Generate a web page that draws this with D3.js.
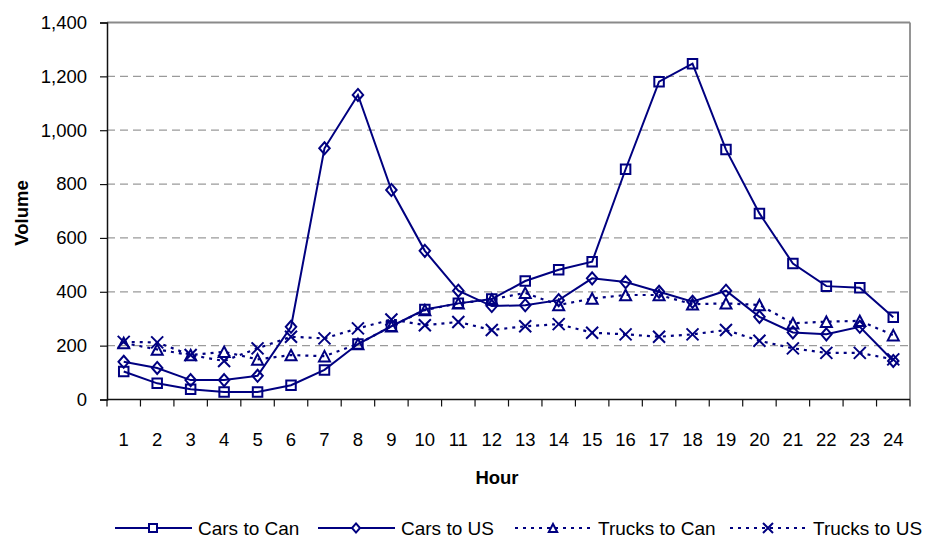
<!DOCTYPE html>
<html><head><meta charset="utf-8">
<script src="https://cdn.jsdelivr.net/npm/d3@7"></script>
<style>body{margin:0;background:#fff}svg{display:block;font-family:"Liberation Sans",Arial,sans-serif}</style>
</head><body><svg id="c" width="933" height="540"></svg>
<script>
const hours = d3.range(1,25);
const yTicks = [0,200,400,600,800,1000,1200,1400];
const carsToCan = [104,60,38,28,28,53,110,206,272,334,357,373,440,482,512,855,1180,1247,928,691,505,421,415,305];
const carsToUS = [140,117,72,72,88,270,933,1131,778,552,404,347,350,369,450,436,400,363,404,307,249,242,270,143];
const trucksToCan = [210,186,165,177,149,165,161,206,272,332,357,372,396,351,375,388,388,354,357,351,283,289,292,239];
const trucksToUS = [214,212,165,143,190,233,227,264,297,276,288,258,272,280,248,242,233,242,258,218,190,173,173,149];
const seriesNames = ["Cars to Can","Cars to US","Trucks to Can","Trucks to US"];
const seriesData = [carsToCan, carsToUS, trucksToCan, trucksToUS];
const markers = ["square","diamond","triangle","x"];
const dashed = [false,false,true,true];

const col = "#000080";
const svg = d3.select("#c");
const L=107, R=910, T=22.5, B=399.5;
const x = d3.scaleBand().domain(hours).range([L,R]).padding(0);
const y = d3.scaleLinear().domain([0,1400]).range([B,T]);
const cx = h => x(h) + x.bandwidth()/2;

// gridlines
svg.append("g").selectAll("line").data(yTicks.filter(v=>v>0 && v<1400)).join("line")
  .attr("x1",L).attr("x2",R).attr("y1",d=>y(d)).attr("y2",d=>y(d))
  .attr("stroke","#9a9a9a").attr("stroke-width",1.3).attr("stroke-dasharray","8,5");
// top and right border
svg.append("line").attr("x1",L).attr("x2",R).attr("y1",y(1400)).attr("y2",y(1400)).attr("stroke","#8a8a8a").attr("stroke-width",1.8);
svg.append("line").attr("x1",R).attr("x2",R).attr("y1",y(1400)).attr("y2",B).attr("stroke","#8a8a8a").attr("stroke-width",1.8);

// y axis
const yAxis = d3.axisLeft(y).tickValues(yTicks).tickSize(7).tickPadding(13).tickFormat(d3.format(","));
const gy = svg.append("g").attr("transform",`translate(${L},0)`).call(yAxis);
gy.select(".domain").attr("stroke","#111").attr("stroke-width",1.5);
gy.selectAll(".tick line").attr("stroke","#111").attr("stroke-width",1.2);
gy.selectAll("text").attr("font-size",18.5).attr("fill","#000").attr("font-family","Liberation Sans, Arial, sans-serif");

// x axis: ticks at band boundaries
const gx = svg.append("g");
gx.append("line").attr("x1",L).attr("x2",R).attr("y1",B).attr("y2",B).attr("stroke","#111").attr("stroke-width",1.5);
const bounds = hours.map(h=>x(h)).concat([R]);
gx.selectAll("line.t").data(bounds).join("line").attr("class","t")
  .attr("x1",d=>d).attr("x2",d=>d).attr("y1",B).attr("y2",B+7).attr("stroke","#111").attr("stroke-width",1.2);
gx.selectAll("text").data(hours).join("text")
  .attr("x",d=>cx(d)).attr("y",446).attr("text-anchor","middle")
  .attr("font-size",18.5).attr("fill","#000").text(d=>d);

// axis titles
svg.append("text").attr("x",497).attr("y",484).attr("text-anchor","middle").attr("font-size",18.5).attr("font-weight","bold").text("Hour");
svg.append("text").attr("transform","translate(28,213) rotate(-90)").attr("text-anchor","middle").attr("font-size",18.5).attr("font-weight","bold").text("Volume");

function markerPath(type, s){
  const h = s/2;
  if(type==="square") return `M${-h},${-h}H${h}V${h}H${-h}Z`;
  if(type==="diamond") return `M0,${-h*1.15}L${h},0L0,${h*1.15}L${-h},0Z`;
  if(type==="triangle") return `M0,${-h}L${h*1.05},${h}L${-h*1.05},${h}Z`;
  return `M${-h},${-h}L${h},${h}M${h},${-h}L${-h},${h}`;
}

const line = d3.line().x((d,i)=>cx(hours[i])).y(d=>y(d));
seriesData.forEach((data,k)=>{
  const g = svg.append("g");
  g.append("path").attr("d",line(data)).attr("fill","none").attr("stroke",col)
    .attr("stroke-width",dashed[k]?2.2:2).attr("stroke-dasharray",dashed[k]?"3,5":null);
  g.selectAll("path.m").data(data).join("path").attr("class","m")
    .attr("transform",(d,i)=>`translate(${cx(hours[i])},${y(d)})`)
    .attr("d",markerPath(markers[k], markers[k]==="x"?12:(markers[k]==="square"?9.5:10.5)))
    .attr("fill","none").attr("stroke",col).attr("stroke-width",2);
});

// legend
const legX = [115,318,515,730];
const ly = 528;
seriesNames.forEach((name,k)=>{
  const g = svg.append("g");
  g.append("line").attr("x1",legX[k]).attr("x2",legX[k]+77).attr("y1",ly).attr("y2",ly)
    .attr("stroke",col).attr("stroke-width",2).attr("stroke-dasharray",dashed[k]?"3,5":null);
  g.append("path").attr("transform",`translate(${legX[k]+38},${ly})`)
    .attr("d",markerPath(markers[k], markers[k]==="x"?10:8))
    .attr("fill","#fff").attr("stroke",col).attr("stroke-width",2);
  g.append("text").attr("x",legX[k]+83).attr("y",ly+7).attr("font-size",19).attr("fill","#000").text(name);
});
</script></body></html>
